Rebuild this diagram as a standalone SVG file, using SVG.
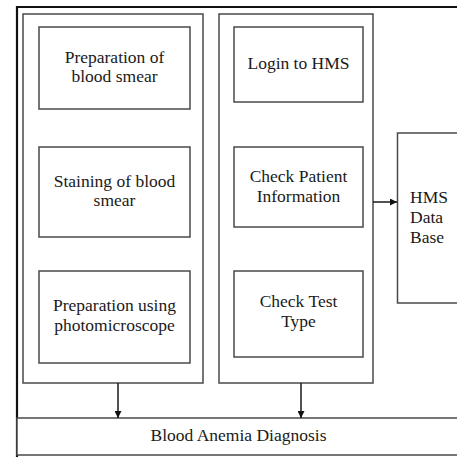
<svg xmlns="http://www.w3.org/2000/svg" width="457" height="457" viewBox="0 0 457 457">
<defs>
<style>
.box{fill:#fff;stroke:#4a4a4a;stroke-width:1.5}
.t{font-family:"Times New Roman","Liberation Serif","DejaVu Serif",serif;font-size:17.5px;fill:#1a1a1a;text-anchor:middle}
.tl{font-family:"Times New Roman","Liberation Serif","DejaVu Serif",serif;font-size:17.5px;fill:#1a1a1a}
.c{stroke:#1a1a1a;stroke-width:1.5;fill:none}
</style>
<marker id="ah" viewBox="0 0 10 10" refX="10" refY="5" markerWidth="7" markerHeight="7" markerUnits="userSpaceOnUse" orient="auto">
<path d="M0,0 L10,5 L0,10 z" fill="#111"/>
</marker>
</defs>
<rect x="0" y="0" width="457" height="457" fill="#fff"/>
<g id="frame">
<path d="M17,457 L17,7 L457,7" fill="none" stroke="#111" stroke-width="2.2"/>
</g>
<g id="left-column"><rect class="box" x="23" y="14" width="180" height="369"/></g>
<g id="right-column"><rect class="box" x="219" y="14" width="154" height="369"/></g>
<g id="prep-smear">
<rect class="box" x="39" y="27" width="151" height="82"/>
<text class="t" x="114.5" y="63">Preparation of</text>
<text class="t" x="114.5" y="82">blood smear</text>
</g>
<g id="staining">
<rect class="box" x="39" y="147" width="151" height="90"/>
<text class="t" x="114.5" y="187">Staining of blood</text>
<text class="t" x="114.5" y="206">smear</text>
</g>
<g id="photomicroscope">
<rect class="box" x="39" y="271" width="151" height="92"/>
<text class="t" x="114.5" y="311">Preparation using</text>
<text class="t" x="114.5" y="331">photomicroscope</text>
</g>
<g id="login">
<rect class="box" x="234" y="27" width="129" height="75"/>
<text class="t" x="298.5" y="69">Login to HMS</text>
</g>
<g id="check-patient">
<rect class="box" x="234" y="147" width="129" height="80"/>
<text class="t" x="298.5" y="182">Check Patient</text>
<text class="t" x="298.5" y="202">Information</text>
</g>
<g id="check-test">
<rect class="box" x="234" y="271" width="129" height="86"/>
<text class="t" x="298.5" y="307">Check Test</text>
<text class="t" x="298.5" y="327">Type</text>
</g>
<g id="hms-db">
<rect class="box" x="397.5" y="133" width="70" height="170"/>
<text class="tl" x="410" y="203">HMS</text>
<text class="tl" x="410" y="223">Data</text>
<text class="tl" x="410" y="243">Base</text>
</g>
<g id="diagnosis">
<rect class="box" x="17" y="418" width="450" height="37"/>
<text class="t" x="238.5" y="441">Blood Anemia Diagnosis</text>
</g>
<g id="connectors">
<line class="c" x1="373" y1="202" x2="397" y2="202" marker-end="url(#ah)"/>
<line class="c" x1="118" y1="383" x2="118" y2="418" marker-end="url(#ah)"/>
<line class="c" x1="301" y1="383" x2="301" y2="418" marker-end="url(#ah)"/>
</g>
</svg>
